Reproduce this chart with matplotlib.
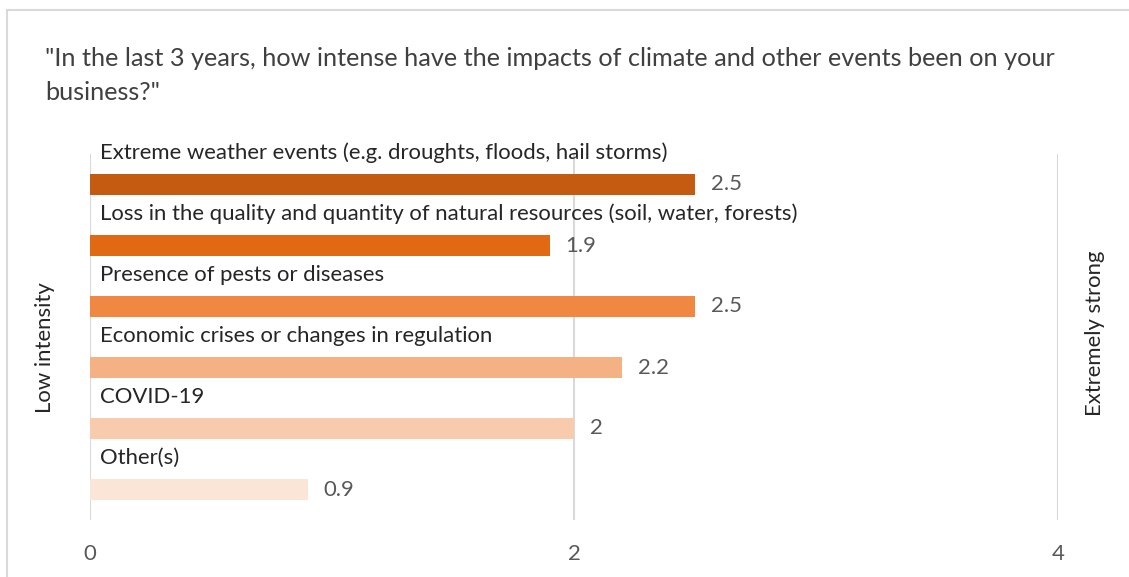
import matplotlib.pyplot as plt
from matplotlib.patches import Rectangle

categories = [
    "Extreme weather events (e.g. droughts, floods, hail storms)",
    "Loss in the quality and quantity of natural resources (soil, water, forests)",
    "Presence of pests or diseases",
    "Economic crises or changes in regulation",
    "COVID-19",
    "Other(s)",
]
scores = [2.5, 1.9, 2.5, 2.2, 2, 0.9]
score_labels = ["2.5", "1.9", "2.5", "2.2", "2", "0.9"]
bar_colors = ["#C55A11", "#E26914", "#F08842", "#F4B183", "#F8CBAD", "#FBE5D6"]
xticks = [0, 2, 4]

plt.rcParams["font.family"] = ["Lato", "DejaVu Sans"]

fig = plt.figure(figsize=(11.29, 5.77), dpi=100)
fig.patches.append(Rectangle((7 / 1129, -0.1), 1.2, 1 - 10 / 577 + 0.1,
                             transform=fig.transFigure, fill=False,
                             edgecolor="#D9D9D9", linewidth=1.5))

ax = fig.add_axes([90 / 1129, 57 / 577, 968 / 1129, 366 / 577])
ypos = list(range(len(categories)))
ax.barh(ypos, scores, height=0.36, color=bar_colors, zorder=2)

for y, name, v, lab in zip(ypos, categories, scores, score_labels):
    ax.text(0.04, y - 0.52, name, va="center", ha="left",
            fontsize=15.9, color="#262626")
    ax.text(v + 0.065, y, lab, va="center", ha="left",
            fontsize=15.9, color="#595959")

ax.set_xlim(0, 4)
ax.set_ylim(5.5, -0.5)
ax.set_xticks(xticks)
ax.set_xticklabels([str(t) for t in xticks], fontsize=15.9, color="#595959")
ax.set_yticks([])
ax.tick_params(axis="x", length=0, pad=17)
ax.grid(axis="x", color="#D9D9D9", linewidth=1.5, zorder=0)
for s in ax.spines.values():
    s.set_visible(False)

fig.text(45 / 1129, 1 - 58 / 577,
         "\"In the last 3 years, how intense have the impacts of climate and other events been on your",
         fontsize=18.2, color="#404040", va="center", ha="left")
fig.text(45 / 1129, 1 - 93 / 577, "business?\"",
         fontsize=18.2, color="#404040", va="center", ha="left")

fig.text(45 / 1129, 1 - 348 / 577, "Low intensity", rotation=90,
         fontsize=15.9, color="#262626", va="center", ha="center")
fig.text(1095 / 1129, 1 - 333 / 577, "Extremely strong", rotation=90,
         fontsize=15.9, color="#262626", va="center", ha="center")

fig.savefig("out.png", dpi=100)
